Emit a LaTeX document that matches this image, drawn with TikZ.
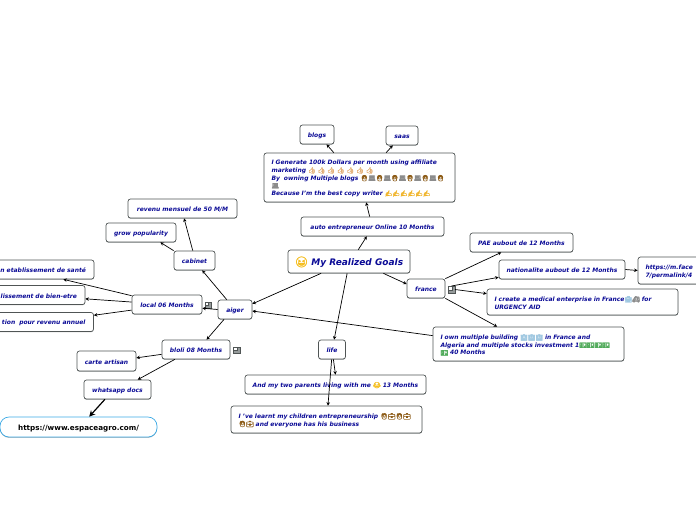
\documentclass[tikz,border=0pt]{standalone}
\usepackage{xcolor}
\usepackage{fontspec}
\setmainfont{DejaVu Sans}
\newfontfamily\emojifont[FakeBold=2.5]{Noto Emoji}
\usetikzlibrary{arrows.meta, shadows}
\definecolor{mynavy}{RGB}{10,10,150}
\definecolor{myedge}{RGB}{80,85,85}
\definecolor{myshade}{RGB}{150,155,155}
\definecolor{mysky}{RGB}{60,170,230}
\definecolor{myskin}{RGB}{225,170,110}
\definecolor{myhair}{RGB}{140,90,20}
\definecolor{mypc}{RGB}{140,140,140}
\definecolor{myice}{RGB}{160,200,225}
\definecolor{mycash}{RGB}{80,170,90}
\definecolor{mypen}{RGB}{240,180,40}
\definecolor{mysmile}{RGB}{245,190,30}
\newcommand{\emo}[2]{\smash{\color{#1}\emojifont\fontsize{6}{7.7}\selectfont #2}}
\newcommand{\womanpc}{\emo{myhair}{👩}\emo{mypc}{💻}}
\tikzset{
  goal/.style 2 args={rectangle, draw=myedge, fill=white, rounded corners=2.5pt, line width=0.7pt,
    minimum width=#1, minimum height=#2, inner sep=0pt, align=center, text=mynavy,
    font=\bfseries\itshape\fontsize{6}{7.7}\selectfont,
    execute at begin node={\rule{0pt}{6.6pt}},
    drop shadow={shadow xshift=0pt, shadow yshift=-0.7pt, fill=myshade, opacity=1}},
  longgoal/.style 2 args={goal={#1}{#2}, text width=#1-15pt, align=left},
  cutgoal/.style 2 args={goal={#1}{#2}, text width=#1-16pt, align=right},
  linkgoal/.style={goal={157pt}{20pt}, draw=mysky, rounded corners=9pt, text=black,
    font=\bfseries\fontsize{7.2}{9}\selectfont, execute at begin node={\rule{0pt}{9pt}}},
  noteicon/.style={rectangle, draw=myedge, fill=myshade, minimum size=6.5pt, inner sep=0pt, line width=0.5pt,
    path picture={\draw[line width=0.5pt, fill=white] (path picture bounding box.north west) rectangle +(3.5pt,-3.5pt);}},
  arrow/.style={-{Stealth[length=3.5pt, width=3.5pt]}, line width=0.7pt, color=black},
  bigarrow/.style={-{Stealth[length=6pt, width=6pt]}, line width=1.2pt, color=black}
}
\begin{document}
\begin{tikzpicture}[x=1pt, y=-1pt]
  \useasboundingbox (0,0) rectangle (696,520);
  % centre
  \node[goal={122pt}{23pt}, font=\bfseries\itshape\fontsize{9}{10}\selectfont,
    execute at begin node={\rule{0pt}{10pt}}] (goals) at (349,261.5)
    {{\color{mysmile}\emojifont\fontsize{10.5}{10}\selectfont 😆} My Realized Goals};
  % top branch
  \node[goal={143pt}{19pt}] (online) at (372.5,226.5) {auto entrepreneur Online 10 Months};
  \node[longgoal={191pt}{49pt}] (affiliate) at (359.5,177.5)
    {I Generate 100k Dollars per month using affiliate\\
     marketing \emo{myskin}{👍 👍 👍 👍 👍 👍 👍}\\
     By\ \ owning Multiple blogs \womanpc\womanpc\womanpc\womanpc\womanpc\emo{myhair}{👩}\\
     \emo{mypc}{💻}\\
     Because I'm the best copy writer \emo{mypen}{✍✍✍✍✍✍}};
  \node[goal={34pt}{19pt}] (blogs) at (317,134.5) {blogs};
  \node[goal={32pt}{19pt}] (saas) at (402,135.5) {saas};
  % right branch
  \node[goal={38pt}{19pt}] (france) at (426,288.5) {france};
  \node[noteicon] (francenote) at (451.5,289.5) {};
  \node[goal={103pt}{19pt}] (pae) at (521.5,242.5) {PAE aubout de 12 Months};
  \node[goal={126pt}{19pt}] (nationality) at (562,269.5) {nationalite aubout de 12 Months};
  \node[longgoal={82pt}{27pt}] (facebook) at (679,270.5) {https://m.face\\7/permalink/4};
  \node[longgoal={191pt}{26pt}] (medical) at (582.5,302)
    {I create a medical enterprise in France\emo{myice}{🏥}\emo{mypc}{🚑} for\\URGENCY AID};
  \node[longgoal={191pt}{34pt}] (building) at (528.5,344)
    {I own multiple building \emo{myice}{🏢🏢🏢} in France and\\
     Algeria and multiple stocks investment 1\emo{mycash}{💵💵💵💵}\\
     \emo{mycash}{💵} 40 Months};
  % left branch
  \node[goal={34pt}{19pt}] (aiger) at (235,309.5) {aiger};
  \node[goal={41pt}{19pt}] (cabinet) at (194.5,260.5) {cabinet};
  \node[goal={109pt}{19pt}] (revenue) at (182.5,208.5) {revenu mensuel de 50 M/M};
  \node[goal={70pt}{19pt}] (popularity) at (141,232.5) {grow popularity};
  \node[goal={70pt}{19pt}] (local) at (167,304.5) {local 06 Months};
  \node[noteicon] (localnote) at (208,305) {};
  \node[cutgoal={154pt}{19pt}] (health) at (17,269.5) {n etablissement de santé};
  \node[cutgoal={145pt}{19pt}] (wellness) at (12.5,295) {lissement de bien-etre};
  \node[cutgoal={153.5pt}{19pt}] (income) at (16.75,322) {tion\ \ pour revenu annuel};
  \node[goal={68pt}{19pt}] (bloli) at (196,349.5) {bloli 08 Months};
  \node[noteicon] (blolinote) at (236.5,350) {};
  \node[goal={59pt}{20pt}] (artisan) at (106.5,361) {carte artisan};
  \node[goal={67pt}{19pt}] (whatsapp) at (117.5,389.5) {whatsapp docs};
  \node[linkgoal] (espace) at (78.5,427) {https://www.espaceagro.com/};
  % bottom branch
  \node[goal={27pt}{19pt}] (life) at (332,349.5) {life};
  \node[goal={181pt}{19pt}] (parents) at (335.5,384.5) {And my two parents living with me \emo{mysmile}{😂} 13 Months};
  \node[longgoal={191pt}{27pt}] (children) at (326.5,419.5)
    {I 've learnt my children entrepreneurship \emo{myhair}{🧑💼🧑💼}\\
     \emo{myhair}{🧑💼} and everyone has his business};
  % connectors
  \draw[arrow] (goals.52) -- (online.-120);
  \draw[arrow] (online.106) -- (affiliate.-75);
  \draw[arrow] (affiliate.136) -- (blogs.-46);
  \draw[arrow] (affiliate.43) -- (saas.-133);
  \draw[arrow] (goals.-157) -- (aiger.18);
  \draw[arrow] (goals.-99) -- (life.78);
  \draw[arrow] (goals.-19) -- (france.167);
  \draw[arrow] (france.27) -- (pae.-154);
  \draw[arrow] (francenote.north) -- (nationality.-173);
  \draw[arrow] (francenote.east) -- (medical.175);
  \draw[arrow] (france.south east) -- (building.151);
  \draw[arrow] (nationality.east) -- (facebook.west);
  \draw[arrow] (building.175) -- (aiger.-5);
  \draw[arrow] (aiger.130) -- (cabinet.-52);
  \draw[arrow] (cabinet.100) -- (revenue.-81);
  \draw[arrow] (cabinet.north west) -- (popularity.-27);
  \draw[arrow] (aiger.west) -- (local.-6);
  \draw[arrow] (local.166) -- (health.-12);
  \draw[arrow] (local.176) -- (wellness.-3);
  \draw[arrow] (local.-171) -- (income.5);
  \draw[arrow] (aiger.-138) -- (bloli.43);
  \draw[arrow] (bloli.-172) -- (artisan.6);
  \draw[arrow] (bloli.-155) -- (whatsapp.26);
  \draw[bigarrow] (whatsapp.-142) -- (espace.44);
  \draw[arrow] (life.-82) -- (parents.north);
  \draw[arrow] (life.-92) -- (children.84);
\end{tikzpicture}
\end{document}
